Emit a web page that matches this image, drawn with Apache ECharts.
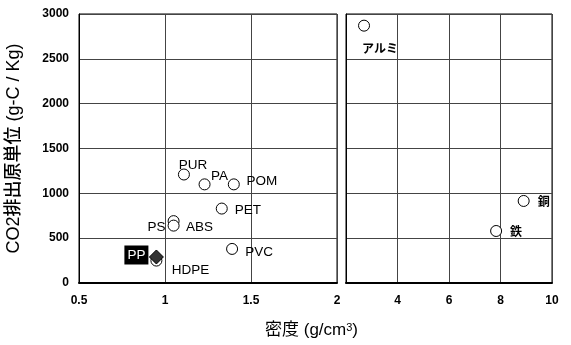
<!DOCTYPE html>
<html><head><meta charset="utf-8">
<script src="https://cdn.jsdelivr.net/npm/echarts@6/dist/echarts.min.js"></script>
<style>html,body{margin:0;padding:0;background:#fff}#c{width:571px;height:345px}</style>
</head><body><div id="c"></div>
<script>
// ---- data ----
const plasticNames   = ['PUR', 'PA', 'POM', 'PET', 'PS', 'ABS', 'PVC', 'HDPE'];
const plasticDensity = [1.11, 1.23, 1.40, 1.33, 1.05, 1.05, 1.39, 0.95];
const plasticCO2     = [1210, 1100, 1100, 830, 690, 640, 380, 250];
const ppNames   = ['PP'];
const ppDensity = [0.95];
const ppCO2     = [290];
const metalNames   = ['アルミ', '銅', '鉄'];
const metalDensity = [2.70, 8.90, 7.83];
const metalCO2     = [2870, 915, 580];
const leftXTicks  = [0.5, 1, 1.5, 2];
const rightXTicks = [2, 4, 6, 8, 10];
const yTicks = [0, 500, 1000, 1500, 2000, 2500, 3000];

// ---- label placement (style, not data) ----
const labelOffsets = {
  'PUR': [9, -9], 'PA': [15, -8], 'POM': [28, -3], 'PET': [26, 2],
  'PS': [-17, 6], 'ABS': [26, 2], 'PVC': [27, 3], 'HDPE': [34, 10],
  'PP': [-20, -2], 'アルミ': [16, 23], '銅': [20, 0], '鉄': [20, 0]
};
const latinFont = '"Liberation Sans", Arial, sans-serif';
const cjkFont = '"Noto Sans CJK JP", sans-serif';
const mixFont = '"Liberation Sans", "Noto Sans CJK JP", sans-serif';

function mk(names, xs, ys) {
  return names.map((n, i) => ({
    name: n, value: [xs[i], ys[i]],
    label: { offset: labelOffsets[n] }
  }));
}

const chart = echarts.init(document.getElementById('c'), null, { renderer: 'canvas' });
const splitStyle = { show: true, lineStyle: { color: '#444', width: 1 } };
const tickLabel = { color: '#000', fontFamily: latinFont, fontWeight: 'bold', fontSize: 12 };
const lbl = { show: true, position: 'inside', formatter: '{b}', color: '#000', fontSize: 13.5,
              fontFamily: latinFont, textBorderWidth: 0, opacity: 1 };

const option = {
  animation: false,
  backgroundColor: '#fff',
  grid: [
    { left: 79, top: 14, width: 258, height: 269, show: true, borderColor: '#000', borderWidth: 1 },
    { left: 346, top: 14, width: 206, height: 269, show: true, borderColor: '#000', borderWidth: 1 }
  ],
  xAxis: [
    { gridIndex: 0, type: 'value', min: leftXTicks[0], max: leftXTicks[leftXTicks.length - 1], interval: 0.5,
      axisLine: { show: true, onZero: false, lineStyle: { color: '#000', width: 2 } },
      axisTick: { show: false }, splitLine: splitStyle,
      axisLabel: Object.assign({ margin: 12, formatter: v => String(v) }, tickLabel) },
    { gridIndex: 1, type: 'value', min: rightXTicks[0], max: rightXTicks[rightXTicks.length - 1], interval: 2,
      axisLine: { show: true, onZero: false, lineStyle: { color: '#000', width: 2 } },
      axisTick: { show: false }, splitLine: splitStyle,
      axisLabel: Object.assign({ margin: 12, showMinLabel: false, formatter: v => String(v) }, tickLabel) }
  ],
  yAxis: [
    { gridIndex: 0, type: 'value', min: yTicks[0], max: yTicks[yTicks.length - 1], interval: 500,
      axisLine: { show: true, lineStyle: { color: '#000', width: 1 } },
      axisTick: { show: false }, splitLine: splitStyle,
      axisLabel: Object.assign({}, tickLabel, { margin: 10, formatter: v => String(v) }),
      name: 'CO2排出原単位 (g-C / Kg)', nameLocation: 'middle', nameGap: 56, nameRotate: 90,
      nameTextStyle: { color: '#000', fontSize: 18, fontFamily: mixFont, fontWeight: 500 } },
    { gridIndex: 1, type: 'value', min: yTicks[0], max: yTicks[yTicks.length - 1], interval: 500,
      axisLine: { show: true, lineStyle: { color: '#000', width: 1 } },
      axisTick: { show: false }, splitLine: splitStyle, axisLabel: { show: false } }
  ],
  graphic: [
    { type: 'text', left: 265, top: 322,
      style: { text: '{a|密度 (g/cm}{s|3}{a|)}', fill: '#000',
               rich: { a: { fontSize: 17, fontFamily: mixFont, color: '#000' },
                       s: { fontSize: 11, fontFamily: latinFont, color: '#000', verticalAlign: 'top', padding: [0, 0, 6, 0] } } } }
  ],
  series: [
    { type: 'scatter', xAxisIndex: 0, yAxisIndex: 0, data: mk(plasticNames, plasticDensity, plasticCO2),
      symbol: 'circle', symbolSize: 11,
      itemStyle: { color: '#fff', borderColor: '#000', borderWidth: 1, opacity: 1 },
      label: lbl },
    { type: 'scatter', xAxisIndex: 0, yAxisIndex: 0, data: mk(ppNames, ppDensity, ppCO2),
      symbol: 'diamond', symbolSize: [14, 14],
      itemStyle: { color: '#333', borderColor: '#000', borderWidth: 1, opacity: 1 },
      label: Object.assign({}, lbl, { color: '#fff', backgroundColor: '#000', padding: [3, 3, 2, 3] }) },
    { type: 'scatter', xAxisIndex: 1, yAxisIndex: 1, data: mk(metalNames, metalDensity, metalCO2),
      symbol: 'circle', symbolSize: 11,
      itemStyle: { color: '#fff', borderColor: '#000', borderWidth: 1, opacity: 1 },
      label: Object.assign({}, lbl, { fontSize: 12, fontWeight: 'bold', fontFamily: cjkFont }) }
  ]
};
chart.setOption(option);
</script></body></html>
